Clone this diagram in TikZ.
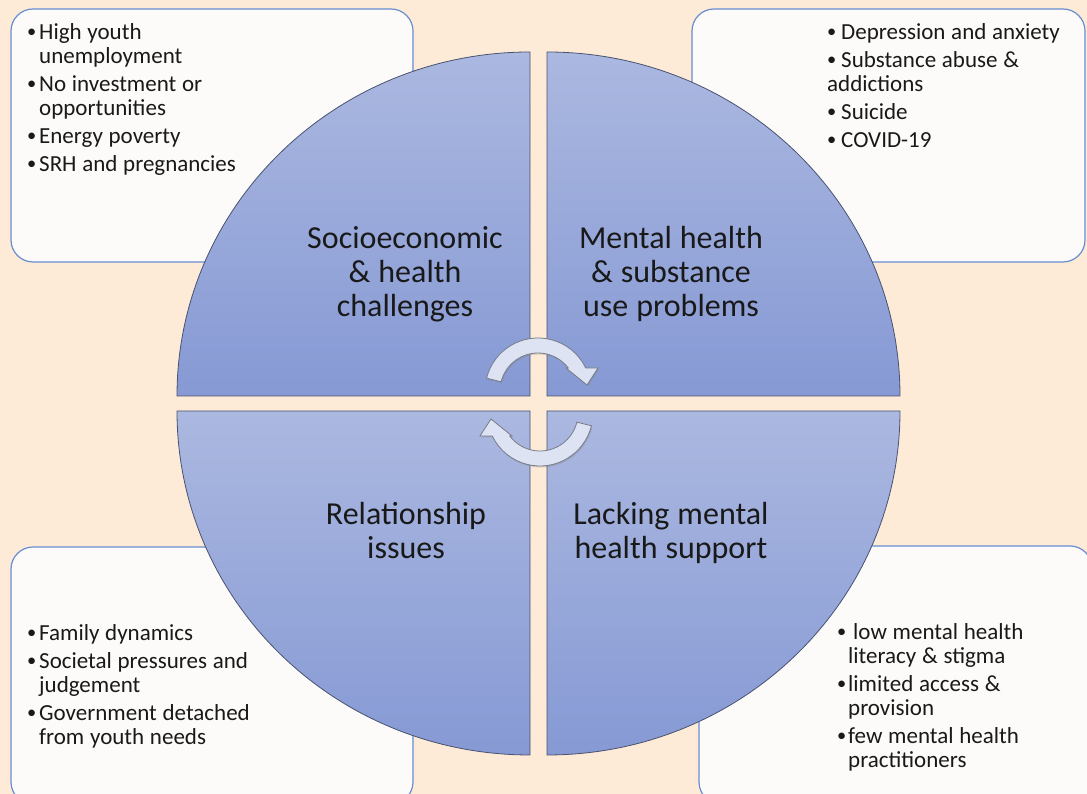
\documentclass[tikz,border=0pt]{standalone}
\usepackage{fontspec}
\setmainfont{Carlito}
\usepackage{tikz}
\usetikzlibrary{calc,shadows}

\definecolor{peach}{RGB}{253,235,215}
\definecolor{boxfill}{RGB}{252,251,249}
\definecolor{boxline}{RGB}{104,140,208}
\definecolor{quadtop}{RGB}{171,184,224}
\definecolor{quadbot}{RGB}{134,153,212}
\definecolor{quadline}{RGB}{72,82,112}
\definecolor{arrowfill}{RGB}{221,227,242}
\definecolor{arrowline}{RGB}{118,124,136}

\newcommand{\bul}[1][12pt]{\makebox[#1][l]{\raisebox{0.1em}{\scalebox{0.8}{\textbullet}}}}
\newcommand{\ind}[1][12pt]{\hspace*{#1}}

\begin{document}
\begin{tikzpicture}[x=1pt,y=1pt,
  infobox/.style={draw=boxline, line width=1.2pt, fill=boxfill, rounded corners=22pt},
  quad/.style={draw=quadline, line width=0.8pt, top color=quadtop, bottom color=quadbot},
  quadtext/.style={text width=320pt, align=center, inner sep=0pt, anchor=base,
    text=black!90, font=\fontsize{32}{34}\selectfont,
    execute at begin node={\spaceskip=0.25em\relax}},
  itemlist/.style={text width=380pt, align=left, inner sep=0pt, anchor=base west,
    text=black!90, font=\fontsize{23}{24}\selectfont,
    execute at begin node={\spaceskip=0.25em\relax}},
  cycarrow/.style={draw=arrowline, line width=0.8pt, fill=arrowfill,
    drop shadow={opacity=0.3, shadow xshift=1pt, shadow yshift=-1.5pt}}]

\useasboundingbox (0,0) rectangle (1087,794);
\fill[peach] (0,0) rectangle (1087,794);

\draw[infobox] (11,785) rectangle (413,532);
\draw[infobox] (692,785) rectangle (1085,532);
\draw[infobox] (11,247) rectangle (413,-10);
\draw[infobox] (699,248) rectangle (1092,-10);

\draw[quad] (530,398) -- (177,398) arc[start angle=180, end angle=90, x radius=353pt, y radius=344pt] -- cycle;
\draw[quad] (547,398) -- (547,742) arc[start angle=90, end angle=0, x radius=353pt, y radius=344pt] -- cycle;
\draw[quad] (530,383) -- (177,383) arc[start angle=180, end angle=270, x radius=353pt, y radius=344pt] -- cycle;
\draw[quad] (547,383) -- (900,383) arc[start angle=0, end angle=-90, x radius=353pt, y radius=344pt] -- cycle;

\foreach \r in {0,180} {
  \begin{scope}[rotate around={\r:(539,392)}]
    \draw[cycarrow] ($(538,403)+(166:53pt)$) arc[start angle=166, end angle=25.7, radius=53pt]
      -- (598,426) -- (587,409) -- (566,426)
      -- ($(538,403)+(37.2:38pt)$) arc[start angle=37.2, end angle=166, radius=38pt] -- cycle;
  \end{scope}
}

\node[quadtext] (socio) at (405,545) {Socioeconomic\\ \& health\\ challenges};
\node[quadtext] (mental) at (671,545) {Mental health\\ \& substance\\ use problems};
\node[quadtext] (relation) at (406,269) {Relationship\\ issues};
\node[quadtext] (support) at (671,269) {Lacking mental\\ health support};

\node[itemlist] (socioList) at (27,754) {\bul High youth\\ \ind unemployment\\[4pt]
  \bul No investment or\\ \ind opportunities\\[4pt] \bul Energy poverty\\[4pt]
  \bul SRH and pregnancies};
\node[itemlist] (mentalList) at (827,754) {\bul[14pt]Depression and anxiety\\[4pt]
  \bul[14pt]Substance abuse \&\\ addictions\\[4pt] \bul[14pt]Suicide\\[4pt]
  \bul[14pt]COVID-19};
\node[itemlist] (relationList) at (27,153) {\bul Family dynamics\\[4pt]
  \bul Societal pressures and\\ \ind judgement\\[4pt]
  \bul Government detached\\ \ind from youth needs};
\node[itemlist] (supportList) at (837,154) {\bul[11pt]\hspace*{5pt}low mental health\\
  \ind[11pt]literacy \& stigma\\[4pt] \bul[11pt]limited access \&\\ \ind[11pt]provision\\[4pt]
  \bul[11pt]few mental health\\ \ind[11pt]practitioners};
\end{tikzpicture}
\end{document}
